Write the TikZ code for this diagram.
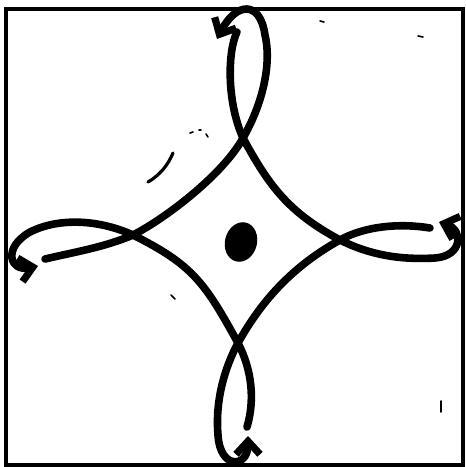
\documentclass[tikz,border=0pt]{standalone}
\usetikzlibrary{arrows.meta,shapes.geometric}
\begin{document}
\begin{tikzpicture}[x=0.5pt,y=-0.5pt,
  strand/.style={line width=3.8pt,line cap=round,line join=round},
  arrowstrand/.style={strand,-{Straight Barb[length=6.5pt,width=12pt,line width=3.6pt]}},
  frame/.style={line width=1.8pt},
  speck/.style={line width=0.8pt,line cap=round}]
\useasboundingbox (0,0) rectangle (466,467);
\fill[white] (0,0) rectangle (466,467);
% frame
\draw[frame] (6,9) rectangle (463,465);
% crossings
\coordinate (T) at (243,138);
\coordinate (R) at (340,240);
\coordinate (B) at (238,343);
\coordinate (L) at (133,235);
% free ends
\coordinate (Tfree) at (237,32);
\coordinate (Rfree) at (430,228);
\coordinate (Bfree) at (247,427);
\coordinate (Lfree) at (45,259);
% arrow tips
\coordinate (Tarr) at (217,39);
\coordinate (Rarr) at (439,222);
\coordinate (Barr) at (248,436);
\coordinate (Larr) at (38,266);
% strand A: top free end -> right loop
\draw[arrowstrand] (Tfree) .. controls (228,50) and (226,100) .. (T)
  .. controls (270,188) and (290,213) .. (R)
  .. controls (370,255) and (400,260) .. (435,258)
  .. controls (463,256) and (463,230) .. (Rarr);
% strand B: right free end -> bottom loop
\draw[arrowstrand] (Rfree) .. controls (400,223) and (365,226) .. (R)
  .. controls (295,265) and (263,298) .. (B)
  .. controls (225,367) and (215,400) .. (218,435)
  .. controls (220,470) and (248,468) .. (Barr);
% strand C: bottom free end -> left loop
\draw[arrowstrand] (Bfree) .. controls (255,400) and (252,370) .. (B)
  .. controls (205,283) and (193,265) .. (L)
  .. controls (100,220) and (60,217) .. (30,232)
  .. controls (2,248) and (10,272) .. (Larr);
% strand D: left free end -> top loop
\draw[arrowstrand] (Lfree) .. controls (75,252) and (105,247) .. (L)
  .. controls (168,217) and (224,173) .. (T)
  .. controls (262,105) and (272,65) .. (265,35)
  .. controls (260,0) and (236,2) .. (Tarr);
% central dot
\node[fill=black,ellipse,inner sep=0pt,minimum width=16pt,minimum height=20pt,rotate=-15] (dot) at (241,242) {};
% specks
\draw[line width=1.6pt,line cap=round] (148,182) .. controls (160,175) and (168,165) .. (173,153);
\draw[speck] (190,133) -- (193,132);
\draw[speck] (199,130) -- (201,130);
\draw[speck] (206,134) -- (208,137);
\draw[speck] (441,401) -- (441,412);
\draw[speck] (418,36) -- (423,37);
\draw[speck] (320,21) -- (324,22);
\draw[speck] (171,295) -- (175,299);
\end{tikzpicture}
\end{document}
